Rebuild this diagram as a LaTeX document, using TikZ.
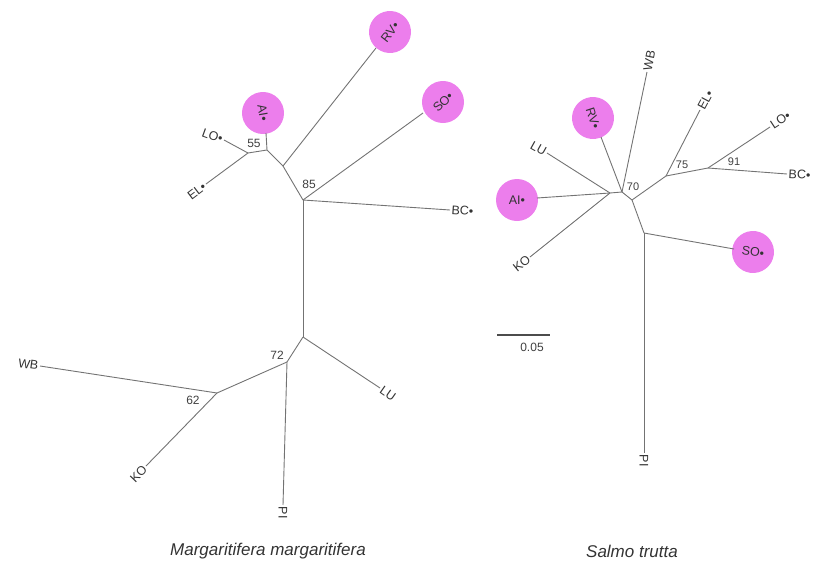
\documentclass[tikz,border=0pt]{standalone}
\usepackage{fontspec}
\setmainfont{Liberation Sans}
\definecolor{pinkm}{RGB}{236,126,236}
\begin{document}
\begin{tikzpicture}[x=1pt,y=-1pt,
  br/.style={draw=black!55, line width=0.9pt},
  lab/.style={font=\fontsize{12.5}{14}\selectfont, text=black!80, inner sep=1.5pt},
  num/.style={font=\fontsize{12}{14}\selectfont, text=black!75, inner sep=0pt},
  snum/.style={font=\fontsize{11}{13}\selectfont, text=black!75, inner sep=0pt},
  pinkc/.style={circle, fill=pinkm, minimum size=42pt, inner sep=0pt, draw=none,
    font=\fontsize{12.5}{14}\selectfont, text=black!80},
  ttl/.style={font=\fontsize{17}{20}\selectfont\itshape, text=black!80}]
\useasboundingbox (0,0) rectangle (815,563);

% ---------------- left tree ----------------
\node[pinkc, rotate=52] (lRVc) at (390,32) {RV•};
\node[pinkc, rotate=45] (lSOc) at (443,102) {SO•};
\node[pinkc, rotate=-80] (lAIc) at (263,113) {AI•};

\coordinate (lA) at (303,200);
\coordinate (lB) at (283,166);
\coordinate (lC) at (267,150);
\coordinate (lD) at (248,153);
\coordinate (lE) at (303,337);
\coordinate (lF) at (287,362);
\coordinate (lG) at (217,393);
\coordinate (lRV) at (376,48);
\coordinate (lSO) at (423,113);
\coordinate (lAI) at (266,133);
\coordinate (lLO) at (224,140);
\coordinate (lEL) at (206,184);
\coordinate (lBC) at (450,210);
\coordinate (lLU) at (380,388);
\coordinate (lPI) at (283,505);
\coordinate (lKO) at (146,466);
\coordinate (lWB) at (40,366);

\draw[br] (lA) -- (lB);
\draw[br] (lB) -- (lC);
\draw[br] (lC) -- (lD);
\draw[br] (lD) -- (lLO);
\draw[br] (lD) -- (lEL);
\draw[br] (lC) -- (lAI);
\draw[br] (lB) -- (lRV);
\draw[br] (lA) -- (lSO);
\draw[br] (lA) -- (lBC);
\draw[br] (lA) -- (lE);
\draw[br] (lE) -- (lLU);
\draw[br] (lE) -- (lF);
\draw[br] (lF) -- (lPI);
\draw[br] (lF) -- (lG);
\draw[br] (lG) -- (lWB);
\draw[br] (lG) -- (lKO);

\node[lab, anchor=east, rotate=-20] (tlLO) at (lLO) {LO•};
\node[lab, anchor=east, rotate=37] (tlEL) at (lEL) {EL•};
\node[lab, anchor=west, rotate=-4] (tlBC) at (lBC) {BC•};
\node[lab, anchor=west, rotate=-35] (tlLU) at (lLU) {LU};
\node[lab, anchor=west, rotate=-90] (tlPI) at (lPI) {PI};
\node[lab, anchor=east, rotate=46] (tlKO) at (lKO) {KO};
\node[lab, anchor=east, rotate=-8] (tlWB) at (lWB) {WB};

\node[num] (n55) at (254,143) {55};
\node[num] (n85) at (309,184) {85};
\node[num] (n72) at (277,355) {72};
\node[num] (n62) at (193,400) {62};

% ---------------- right tree ----------------
\node[pinkc, rotate=-72] (rRVc) at (593,118) {RV•};
\node[pinkc] (rAIc) at (517,200) {AI•};
\node[pinkc, rotate=-8] (rSOc) at (753,252) {SO•};

\coordinate (rP1) at (610,193);
\coordinate (rP) at (622,192);
\coordinate (rQ) at (632,200);
\coordinate (rR) at (666,176);
\coordinate (rT) at (708,168);
\coordinate (rS) at (644,233);
\coordinate (rEL) at (700,110);
\coordinate (rLO) at (770,127);
\coordinate (rBC) at (787,174);
\coordinate (rSO) at (734,249);
\coordinate (rPI) at (644,453);
\coordinate (rRV) at (601,137);
\coordinate (rWB) at (647,72);
\coordinate (rLU) at (547,153);
\coordinate (rAI) at (537,198);
\coordinate (rKO) at (530,257);

\draw[br] (rP1) -- (rP);
\draw[br] (rP) -- (rQ);
\draw[br] (rP1) -- (rAI);
\draw[br] (rP1) -- (rKO);
\draw[br] (rP1) -- (rLU);
\draw[br] (rP) -- (rRV);
\draw[br] (rP) -- (rWB);
\draw[br] (rQ) -- (rR);
\draw[br] (rR) -- (rEL);
\draw[br] (rR) -- (rT);
\draw[br] (rT) -- (rLO);
\draw[br] (rT) -- (rBC);
\draw[br] (rQ) -- (rS);
\draw[br] (rS) -- (rSO);
\draw[br] (rS) -- (rPI);

\node[lab, anchor=west, rotate=79] (trWB) at (rWB) {WB};
\node[lab, anchor=west, rotate=62] (trEL) at (rEL) {EL•};
\node[lab, anchor=west, rotate=33] (trLO) at (rLO) {LO•};
\node[lab, anchor=west, rotate=-3] (trBC) at (rBC) {BC•};
\node[lab, anchor=east, rotate=-29] (trLU) at (rLU) {LU};
\node[lab, anchor=east, rotate=39] (trKO) at (rKO) {KO};
\node[lab, anchor=west, rotate=-90] (trPI) at (rPI) {PI};

\node[snum] (n70) at (633,187) {70};
\node[snum] (n75) at (682,165) {75};
\node[snum] (n91) at (734,162) {91};

% scale bar
\coordinate (sL) at (497,335);
\coordinate (sR) at (550,335);
\draw[black!70, line width=1.4pt] (sL) -- (sR);
\node[num] (sc) at (532,347) {0.05};

% titles
\node[ttl] (t1) at (268,551) {Margaritifera margaritifera};
\node[ttl] (t2) at (632,551) {Salmo trutta};
\end{tikzpicture}
\end{document}
